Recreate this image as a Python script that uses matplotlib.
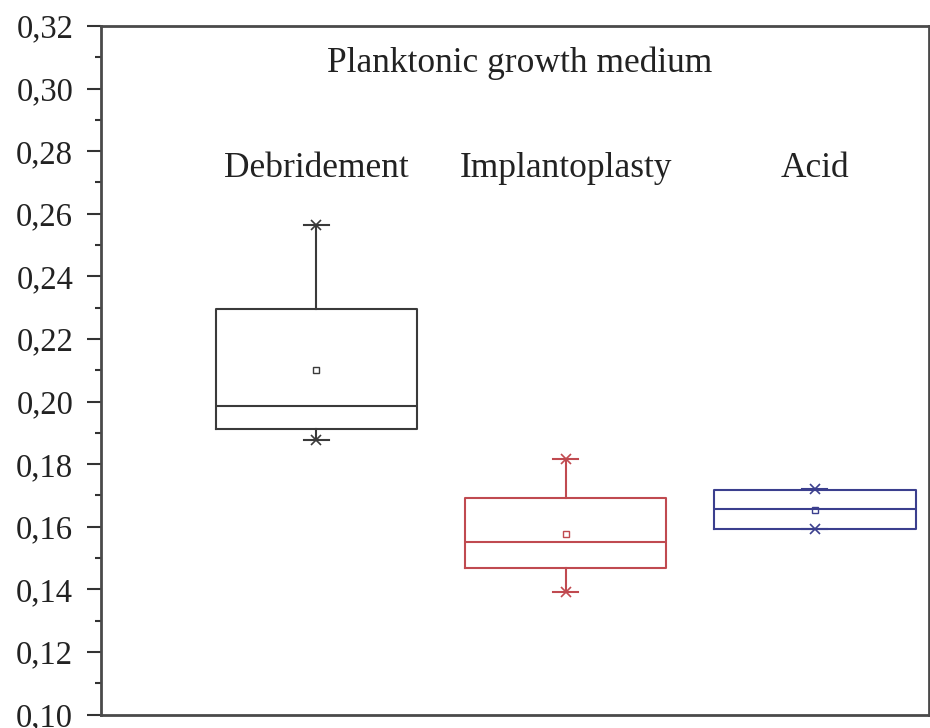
import numpy as np
import matplotlib.pyplot as plt
from matplotlib.ticker import MultipleLocator, FuncFormatter

# box statistics
groups = ["Debridement", "Implantoplasty", "Acid"]
whisk_lo = [0.1877, 0.1393, 0.1592]
q1 = [0.1911, 0.1469, 0.1592]
median = [0.1987, 0.1550, 0.1656]
q3 = [0.2296, 0.1693, 0.1716]
whisk_hi = [0.2564, 0.1816, 0.1720]
means = [0.2101, 0.1576, 0.1655]
colors = ["#3a3a3a", "#c04a50", "#3b3f8e"]

plt.rcParams['font.family'] = ['Liberation Serif', 'DejaVu Serif']

fig = plt.figure(figsize=(9.3, 7.28), dpi=100)
ax = fig.add_axes([0.1086, 0.0185, 0.8903, 0.9458])

pos = np.arange(1, len(groups) + 1)
stats = []
for i in range(len(groups)):
    stats.append(dict(whislo=whisk_lo[i], q1=q1[i], med=median[i],
                      q3=q3[i], whishi=whisk_hi[i], fliers=[]))

for i in range(len(groups)):
    c = colors[i]
    ax.bxp([stats[i]], positions=[pos[i]], widths=0.806, showfliers=False,
           capwidths=0.1,
           boxprops=dict(color=c, lw=1.5),
           medianprops=dict(color=c, lw=1.5),
           whiskerprops=dict(color=c, lw=1.5),
           capprops=dict(color=c, lw=1.5))
    # min / max markers and mean
    ax.plot([pos[i], pos[i]], [whisk_lo[i], whisk_hi[i]], ls='none',
            marker='x', ms=7, mew=1.2, color=c)
    ax.plot(pos[i], means[i], ls='none', marker='s', ms=5, mfc='white',
            mec=c, mew=1.0)
    ax.text(pos[i], 0.2746, groups[i], ha='center', va='center',
            fontsize=25.5, color='#222222')

ax.text(0.506, 0.3081, "Planktonic growth medium",
        transform=ax.get_yaxis_transform(),
        ha='center', va='center', fontsize=25.5, color='#222222')

ax.set_xlim(0.138, 3.457)
ax.set_ylim(0.10, 0.32)
ax.yaxis.set_major_locator(MultipleLocator(0.02))
ax.yaxis.set_minor_locator(MultipleLocator(0.01))
ax.yaxis.set_major_formatter(FuncFormatter(lambda v, p: f"{v:.2f}".replace('.', ',')))
ax.set_xticks([])
ax.tick_params(axis='y', which='major', length=10, width=1.5, labelsize=23.5,
               colors='#333333', labelcolor='#222222', pad=10)
ax.tick_params(axis='y', which='minor', length=4, width=1.5, colors='#333333')
for s in ax.spines.values():
    s.set_linewidth(2.0)
    s.set_color('#4a4a4a')

fig.savefig("out.png", dpi=100)
